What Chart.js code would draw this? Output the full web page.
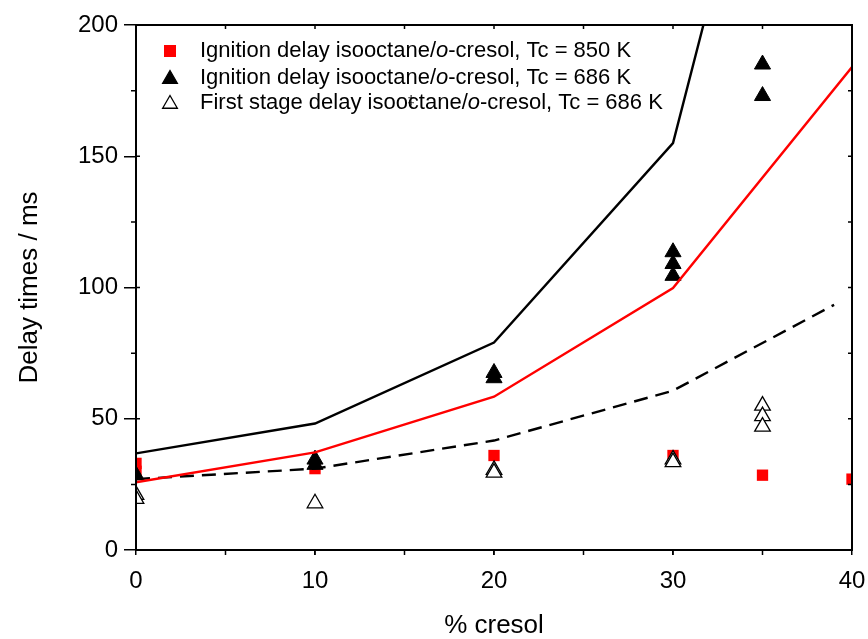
<!DOCTYPE html>
<html><head><meta charset="utf-8">
<script src="https://cdn.jsdelivr.net/npm/chart.js@4/dist/chart.umd.min.js"></script>
<style>html,body{margin:0;padding:0;background:#fff;overflow:hidden}</style>
</head><body>
<canvas id="c" width="868" height="639" style="width:868px;height:639px;display:block"></canvas>
<script>
// ---- data ----
const modelX = [0, 10, 20, 30, 40];
const model686 = [36.8, 48.2, 79, 155, 420];
const model850 = [25.8, 37.2, 58.4, 99.8, 184];
const firstStageModelX = [0, 10, 20, 30, 39];
const firstStageModel = [27, 31, 41.7, 60.7, 93.4];

const sq850X = [0, 0, 10, 20, 30, 35, 40];
const sq850Y = [33, 30, 31, 36, 36, 28.5, 27];
const tri686X = [0, 10, 10, 20, 20, 30, 30, 30, 35, 35];
const tri686Y = [28.5, 34.5, 32.5, 67.5, 65.5, 113.5, 109, 104.5, 185, 173];
const fs686X = [0, 0, 10, 20, 20, 30, 30, 35, 35, 35];
const fs686Y = [21, 19.5, 17.8, 30.5, 29.5, 34.5, 33.5, 55, 51, 47];

const xTicks = [0, 10, 20, 30, 40];
const yTicks = [0, 50, 100, 150, 200];
const legendLabels = [
  ["Ignition delay isooctane/", "o", "-cresol, Tc = 850 K"],
  ["Ignition delay isooctane/", "o", "-cresol, Tc = 686 K"],
  ["First stage delay isooctane/", "o", "-cresol, Tc = 686 K"]
];

const pts = (xs, ys) => xs.map((x, i) => ({x: x, y: ys[i]}));
const FONT = "'Liberation Sans', Arial, sans-serif";

const framePlugin = {
  id: 'frame',
  afterDraw(chart) {
    const ctx = chart.ctx, a = chart.chartArea;
    const xs = chart.scales.x, ys = chart.scales.y;
    ctx.save();
    ctx.strokeStyle = '#000';
    ctx.lineWidth = 2;
    ctx.strokeRect(a.left, a.top, a.right - a.left, a.bottom - a.top);
    ctx.lineWidth = 1.5;
    ctx.beginPath();
    for (let v = 5; v < 40; v += 5) {
      const px = xs.getPixelForValue(v);
      ctx.moveTo(px, a.bottom); ctx.lineTo(px, a.bottom + 5);
      ctx.moveTo(px, a.top); ctx.lineTo(px, a.top + 4);
    }
    for (let v = 25; v < 200; v += 25) {
      const py = ys.getPixelForValue(v);
      if (v % 50 !== 0) { ctx.moveTo(a.left, py); ctx.lineTo(a.left - 5, py); }
      else { ctx.moveTo(a.left, py); ctx.lineTo(a.left + 4, py); }
      ctx.moveTo(a.right, py); ctx.lineTo(a.right - 4, py);
    }
    ctx.stroke();

    // legend
    const rows = [51, 78, 103];
    const mx = 170;
    ctx.lineWidth = 1.3;
    ctx.fillStyle = '#ff0000';
    ctx.fillRect(mx - 6, rows[0] - 6, 12, 12);
    const tri = (cx, cy, r, fill) => {
      ctx.beginPath();
      ctx.moveTo(cx, cy - r);
      ctx.lineTo(cx + r * 0.866, cy + r * 0.5);
      ctx.lineTo(cx - r * 0.866, cy + r * 0.5);
      ctx.closePath();
      ctx.fillStyle = fill; ctx.fill();
      ctx.strokeStyle = '#000'; ctx.stroke();
    };
    tri(mx, rows[1] + 1, 8.5, '#000');
    tri(mx, rows[2] + 1, 8.5, '#fff');
    ctx.fillStyle = '#000';
    ctx.textBaseline = 'middle';
    legendLabels.forEach((parts, i) => {
      let x = 200;
      parts.forEach((p, j) => {
        ctx.font = (j === 1 ? 'italic ' : '') + '22px ' + FONT;
        ctx.fillText(p, x, rows[i]);
        x += ctx.measureText(p).width;
      });
    });
    ctx.font = '13px ' + FONT;
    ctx.textAlign = 'center';
    ctx.fillText('\u2021', 411, 100);
    ctx.restore();
  }
};

new Chart(document.getElementById('c'), {
  type: 'scatter',
  data: {
    datasets: [
      { data: pts(modelX, model686), showLine: true, borderColor: '#000', borderWidth: 2.4, pointRadius: 0, fill: false },
      { data: pts(modelX, model850), showLine: true, borderColor: '#ff0000', borderWidth: 2.4, pointRadius: 0, fill: false },
      { data: pts(firstStageModelX, firstStageModel), showLine: true, borderColor: '#000', borderWidth: 2.4, borderDash: [14, 8], pointRadius: 0, fill: false },
      { data: pts(fs686X, fs686Y), pointStyle: 'triangle', pointRadius: 9, backgroundColor: '#fff', borderColor: '#000', borderWidth: 1.3 },
      { data: pts(tri686X, tri686Y), pointStyle: 'triangle', pointRadius: 9.3, backgroundColor: '#000', borderColor: '#000', borderWidth: 1 },
      { data: pts(sq850X, sq850Y), pointStyle: 'rect', pointRadius: 8, backgroundColor: '#ff0000', borderColor: '#ff0000', borderWidth: 0 }
    ]
  },
  options: {
    responsive: false,
    animation: false,
    events: [],
    layout: { padding: { top: 25, right: 16, left: 0, bottom: 0 }, autoPadding: false },
    plugins: { legend: { display: false }, tooltip: { enabled: false } },
    scales: {
      x: {
        type: 'linear', min: 0, max: 40,
        afterBuildTicks: s => { s.ticks = xTicks.map(v => ({value: v})); },
        afterFit: s => { s.height = 89; s.paddingLeft = 0; s.paddingRight = 0; },
        ticks: { color: '#000', font: { family: FONT, size: 24 }, padding: 12, maxRotation: 0 },
        grid: { display: true, drawOnChartArea: false, drawTicks: true, tickLength: 5, color: '#000', lineWidth: 1.5 },
        border: { display: true, color: '#000', width: 2 },
        title: { display: true, text: '% cresol', color: '#000', font: { family: FONT, size: 26 }, padding: { top: 0, bottom: -2 } }
      },
      y: {
        type: 'linear', min: 0, max: 200,
        afterBuildTicks: s => { s.ticks = yTicks.map(v => ({value: v})); },
        afterFit: s => { s.width = 136; s.paddingTop = 0; s.paddingBottom = 0; },
        ticks: { color: '#000', font: { family: FONT, size: 24 }, padding: 6 },
        grid: { display: true, drawOnChartArea: false, drawTicks: true, tickLength: 12, color: '#000', lineWidth: 1.5 },
        border: { display: true, color: '#000', width: 2 },
        title: { display: true, text: 'Delay times / ms', color: '#000', font: { family: FONT, size: 26 }, padding: { top: 14, bottom: 0 } }
      }
    }
  },
  plugins: [framePlugin]
});
</script>
</body></html>
